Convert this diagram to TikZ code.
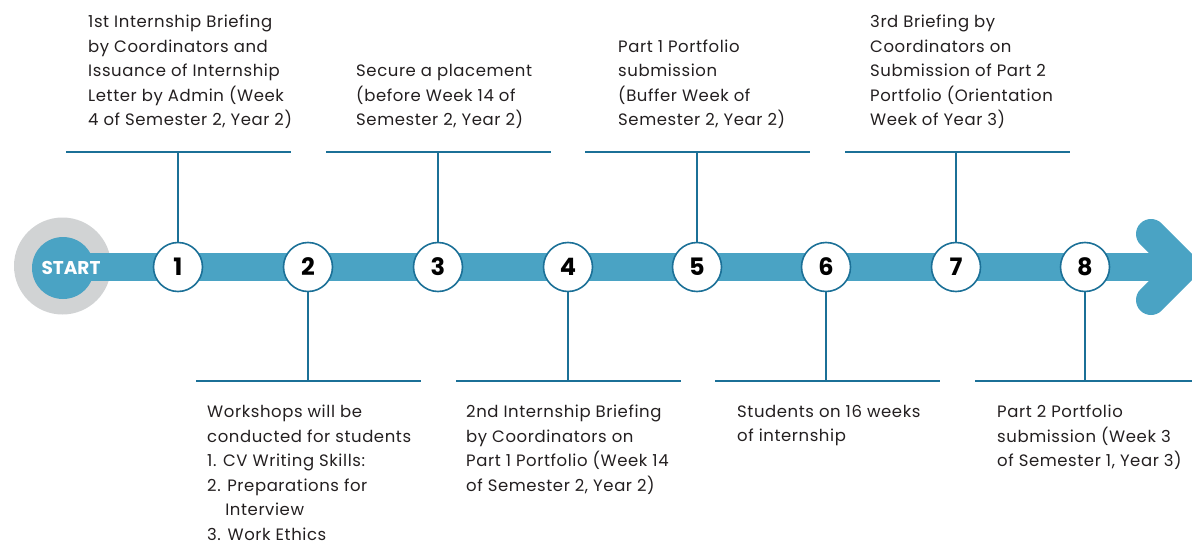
\documentclass[tikz,border=0pt]{standalone}
\usepackage{fontspec}
\setmainfont{Poppins}
\newfontfamily\bodyfont[LetterSpace=3.5]{Poppins}
\definecolor{barblue}{HTML}{4AA3C4}
\definecolor{ringblue}{HTML}{1B7097}
\definecolor{startgray}{HTML}{D1D3D4}
\definecolor{txt}{HTML}{231F20}
\begin{document}
\begin{tikzpicture}[x=1pt,y=-1pt,
  numcirc/.style={circle,draw=ringblue,line width=1.6pt,fill=white,minimum size=49pt,inner sep=0pt,font=\fontsize{24}{24}\selectfont\bfseries,text=black},
  hline/.style={ringblue,line width=1.5pt},
  conn/.style={ringblue,line width=1.5pt},
  toptext/.style={anchor=south west,align=left,inner sep=0pt,text=txt,font=\bodyfont\fontsize{16.5}{24.5}\selectfont},
  bottext/.style={anchor=north west,align=left,inner sep=0pt,text=txt,font=\bodyfont\fontsize{16.5}{24.5}\selectfont}]
\useasboundingbox (0,0) rectangle (1192,546);
\clip (0,0) rectangle (1192,546);
% start ring
\node[circle,fill=startgray,minimum size=97pt,inner sep=0pt] (sring) at (62.5,266) {};
% bar
\draw[barblue,line width=28.5pt] (63,267) -- (1172,267);
\draw[barblue,line width=30pt,line cap=round,line join=miter] (1151,234) -- (1184,267) -- (1151,300);
% start
\node[circle,fill=barblue,minimum size=62pt,inner sep=0pt] (start) at (63,268) {};
\node[text=white,font=\fontsize{18.5}{18.5}\selectfont\bfseries,inner sep=0pt] (startlbl) at (71,268) {START};
% circles
\foreach \i/\x in {1/178,2/308,3/438,4/568,5/697,6/826,7/956,8/1085}{
  \node[numcirc] (c\i) at (\x,267) {\i};
}
% top lines
\foreach \i/\l/\m in {1/66/178,3/326/438,5/585/697,7/845/956}{
  \coordinate (hl\i) at (\l,152);
  \coordinate (hr\i) at (\l+225,152);
  \coordinate (h\i) at (\m,152);
  \draw[hline] (hl\i) -- (hr\i);
  \draw[conn] (c\i) -- (h\i);
}
% bottom lines
\foreach \i/\l/\m in {2/196/308,4/456/568,6/715/826,8/975/1085}{
  \coordinate (hl\i) at (\l,381);
  \coordinate (hr\i) at (\l+225,381);
  \coordinate (h\i) at (\m,381);
  \draw[hline] (hl\i) -- (hr\i);
  \draw[conn] (c\i) -- (h\i);
}
% texts
\node[toptext] (t1) at (88,129) {1st Internship Briefing\\by Coordinators and\\Issuance of Internship\\Letter by Admin (Week\\4 of Semester 2, Year 2)};
\node[toptext] (t3) at (356,129) {Secure a placement\\(before Week 14 of\\Semester 2, Year 2)};
\node[toptext] (t5) at (618,129) {Part 1 Portfolio\\submission\\(Buffer Week of\\Semester 2, Year 2)};
\node[toptext] (t7) at (870,129) {3rd Briefing by\\Coordinators on\\Submission of Part 2\\Portfolio (Orientation\\Week of Year 3)};
\node[bottext] (t2) at (207,405) {Workshops will be\\conducted for students\\1. CV Writing Skills:\\2. Preparations for\\\hspace*{1.1em}Interview\\3. Work Ethics};
\node[bottext] (t4) at (466,405) {2nd Internship Briefing\\by Coordinators on\\Part 1 Portfolio (Week 14\\of Semester 2, Year 2)};
\node[bottext] (t6) at (737,405) {Students on 16 weeks\\of internship};
\node[bottext] (t8) at (997,405) {Part 2 Portfolio\\submission (Week 3\\of Semester 1, Year 3)};
\end{tikzpicture}
\end{document}
